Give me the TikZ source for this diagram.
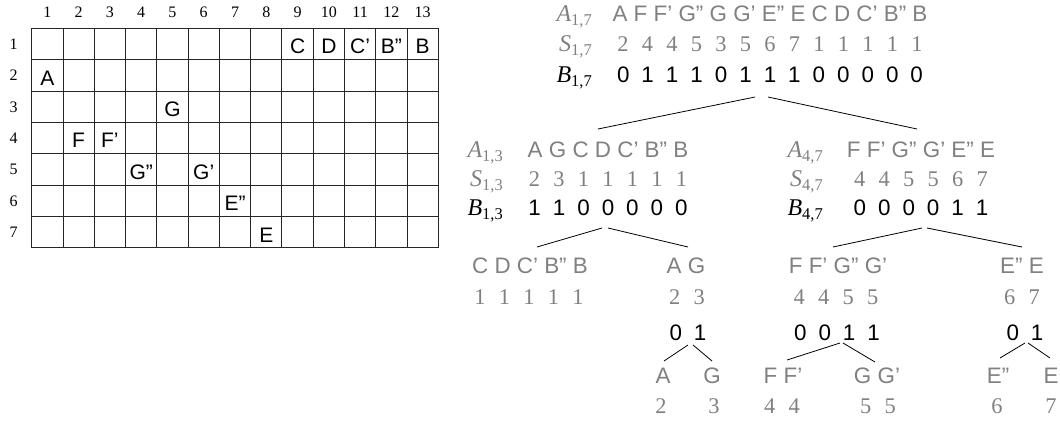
\documentclass[tikz,border=0pt]{standalone}
\usepackage{fontspec}
\setmainfont{Liberation Serif}
\setsansfont{Liberation Sans}
\definecolor{txtgray}{gray}{0.5}
\newcommand{\sdig}[1]{{\spaceskip=13.3pt\relax #1}}
\newcommand{\bdig}[1]{{\spaceskip=12pt\relax #1}}
\newcommand{\lbl}[2]{{\fontsize{24}{26}\selectfont\itshape #1}\raisebox{-4pt}{\fontsize{16.5}{17}\selectfont #2}}
\begin{document}
\begin{tikzpicture}[x=1pt,y=-1pt,
  gridline/.style={line width=0.9pt,draw=black!85},
  num/.style={font=\rmfamily\fontsize{16}{18}\selectfont,anchor=base,inner sep=0pt},
  cell/.style={font=\sffamily\fontsize{21}{24}\selectfont,anchor=base,inner sep=0pt},
  lt/.style={font=\sffamily\fontsize{22.4}{26}\selectfont,text=txtgray,anchor=base,inner sep=0pt},
  sr/.style={font=\rmfamily\fontsize{22.4}{26}\selectfont,text=txtgray,anchor=base,inner sep=0pt},
  bt/.style={font=\sffamily\fontsize{22.4}{26}\selectfont,text=black,anchor=base,inner sep=0pt},
  lab/.style={font=\rmfamily\fontsize{22.4}{26}\selectfont,anchor=base east,inner sep=0pt},
  edge/.style={line width=0.8pt,draw=black}]
\useasboundingbox (0,0) rectangle (1060,421);
% grid
\foreach \i in {0,...,13} \draw[gridline] ({31.7+\i*31.28},28.3) -- ({31.7+\i*31.28},247.7);
\foreach \j in {0,...,7} \draw[gridline] (31.7,{28.3+\j*31.34}) -- (438.3,{28.3+\j*31.34});
\foreach \c in {1,...,13} \node[num] (col\c) at ({31.7+(\c-0.5)*31.28},17) {\c};
\foreach \r in {1,...,7} \node[num] (row\r) at (13.5,{28.3+(\r-0.5)*31.34+5.5}) {\r};
\foreach \c/\r/\t/\n in {9/1/C/gC,10/1/D/gD,11/1/C'/gCp,12/1/B''/gBpp,13/1/B/gB,1/2/A/gA,5/3/G/gG,2/4/F/gF,3/4/F'/gFp,4/5/G''/gGpp,6/5/G'/gGp,7/6/E''/gEpp,8/7/E/gE}
  \node[cell] (\n) at ({31.7+(\c-0.5)*31.28},{28.3+(\r-0.5)*31.34+10}) {\t};
% level 1
\node[lab,text=txtgray] (lA17) at (592,21) {\lbl{A}{1,7}};
\node[lab,text=txtgray] (lS17) at (592,51) {\lbl{S}{1,7}};
\node[lab,text=black] (lB17) at (592,82) {\lbl{B}{1,7}};
\node[lt] (a17) at (770,21) {A F F' G'' G G' E'' E C D C' B'' B};
\node[sr] (s17) at (770,51) {\sdig{2 4 4 5 3 5 6 7 1 1 1 1 1}};
\node[bt] (b17) at (770,82) {\bdig{0 1 1 1 0 1 1 1 0 0 0 0 0}};
% level 2 left
\node[lab,text=txtgray] (lA13) at (503,157) {\lbl{A}{1,3}};
\node[lab,text=txtgray] (lS13) at (503,186) {\lbl{S}{1,3}};
\node[lab,text=black] (lB13) at (503,215) {\lbl{B}{1,3}};
\node[lt] (a13) at (608,157) {A G C D C' B'' B};
\node[sr] (s13) at (608,186) {\sdig{2 3 1 1 1 1 1}};
\node[bt] (b13) at (608,215) {\bdig{1 1 0 0 0 0 0}};
% level 2 right
\node[lab,text=txtgray] (lA47) at (823,157) {\lbl{A}{4,7}};
\node[lab,text=txtgray] (lS47) at (823,186) {\lbl{S}{4,7}};
\node[lab,text=black] (lB47) at (823,215) {\lbl{B}{4,7}};
\node[lt] (a47) at (921,157) {F F' G'' G' E'' E};
\node[sr] (s47) at (921,186) {\sdig{4 4 5 5 6 7}};
\node[bt] (b47) at (921,215) {\bdig{0 0 0 0 1 1}};
% level 3
\node[lt] (a3a) at (530,273) {C D C' B'' B};
\node[sr] (s3a) at (529,304) {\sdig{1 1 1 1 1}};
\node[lt] (a3b) at (686,273) {A G};
\node[sr] (s3b) at (687,304) {\sdig{2 3}};
\node[bt] (b3b) at (688,340) {\bdig{0 1}};
\node[lt] (a3c) at (838,273) {F F' G'' G'};
\node[sr] (s3c) at (836,304) {\sdig{4 4 5 5}};
\node[bt] (b3c) at (837,340) {\bdig{0 0 1 1}};
\node[lt] (a3d) at (1022,273) {E'' E};
\node[sr] (s3d) at (1022,304) {\sdig{6 7}};
\node[bt] (b3d) at (1025,340) {\bdig{0 1}};
% level 4
\node[lt] (a4a) at (663,383) {A};
\node[sr] (s4a) at (661,413) {2};
\node[lt] (a4b) at (712,383) {G};
\node[sr] (s4b) at (714,413) {3};
\node[lt] (a4c) at (783,383) {F F'};
\node[sr] (s4c) at (782,413) {\sdig{4 4}};
\node[lt] (a4d) at (877,383) {G G'};
\node[sr] (s4d) at (878,413) {\sdig{5 5}};
\node[lt] (a4e) at (998,383) {E''};
\node[sr] (s4e) at (997,413) {6};
\node[lt] (a4f) at (1051,383) {E};
\node[sr] (s4f) at (1051,413) {7};
% connector ends
\coordinate (p1l) at (755,97);  \coordinate (c1l) at (598,129);
\coordinate (p1r) at (768,97);  \coordinate (c1r) at (917,129);
\coordinate (p2l) at (602,228); \coordinate (c2l) at (537,247);
\coordinate (p2r) at (608,228); \coordinate (c2r) at (688,247);
\coordinate (p3l) at (922,228); \coordinate (c3l) at (833,247);
\coordinate (p3r) at (927,228); \coordinate (c3r) at (1022,247);
\coordinate (p4l) at (688,345); \coordinate (c4l) at (664,361);
\coordinate (p4r) at (693,345); \coordinate (c4r) at (712,361);
\coordinate (p5l) at (840,343); \coordinate (c5l) at (787,360);
\coordinate (p5r) at (843,343); \coordinate (c5r) at (875,362);
\coordinate (p6l) at (1025,343); \coordinate (c6l) at (1000,358);
\coordinate (p6r) at (1028,343); \coordinate (c6r) at (1050,358);
\foreach \k in {1,...,6} {
  \draw[edge] (p\k l) -- (c\k l);
  \draw[edge] (p\k r) -- (c\k r);
}
\end{tikzpicture}
\end{document}
